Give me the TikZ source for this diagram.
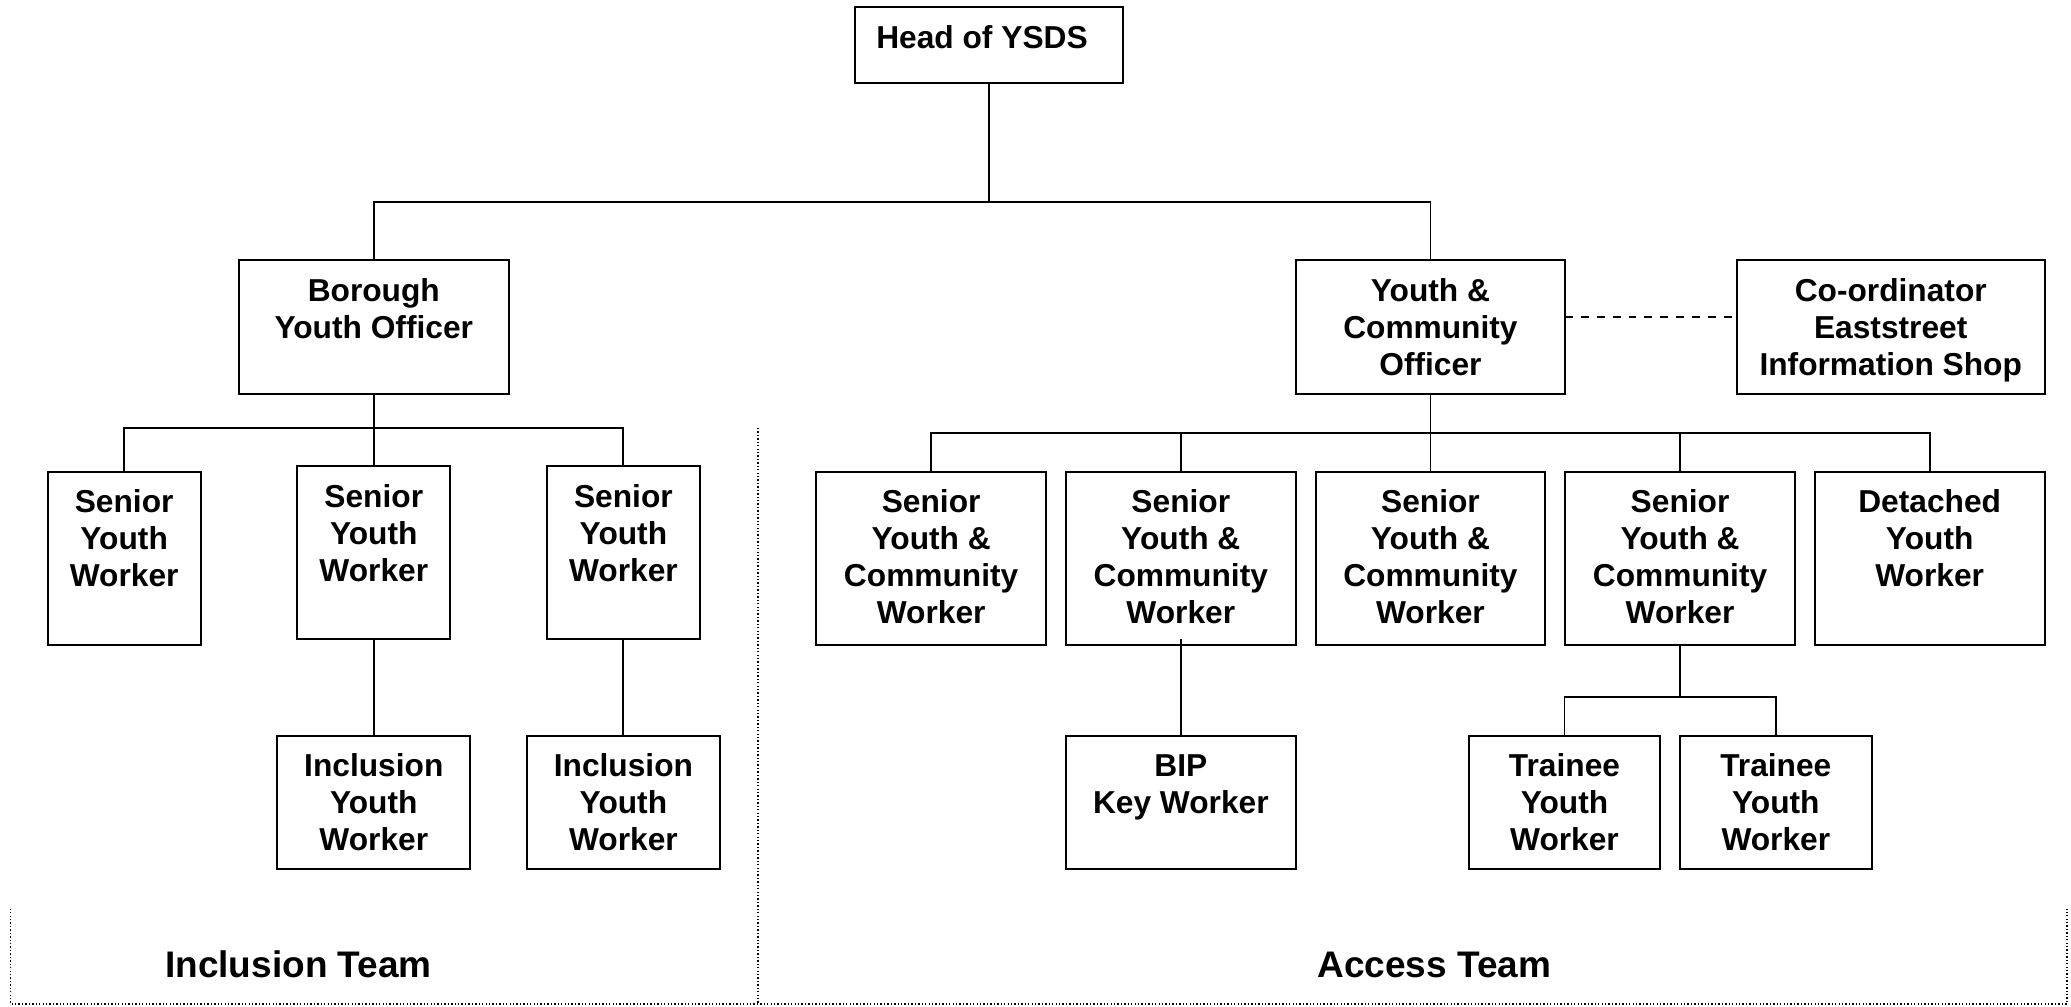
\documentclass[tikz,border=0pt]{standalone}
\usepackage{fontspec}
\setmainfont{Liberation Sans}
\newcommand{\mystrut}{\rule{0pt}{10pt}}
\begin{document}
\begin{tikzpicture}[x=0.5pt,y=-0.5pt,
  box/.style={draw,line width=0.75pt,inner sep=0pt,outer sep=0pt},
  wide/.style={box,minimum width=87pt},
  txt/.style={anchor=north,align=center,inner sep=0pt,font=\fontsize{12}{14}\selectfont\bfseries},
  team/.style={anchor=base,inner sep=0pt,font=\fontsize{14}{16}\selectfont\bfseries},
  conn/.style={line width=0.7pt},
  frame/.style={line width=0.7pt,dash pattern=on 0.5pt off 0.8pt}]
\useasboundingbox (0,0) rectangle (1568,762);
% boxes
\node[box,minimum width=101.5pt,minimum height=29pt] (head) at (748.5,34) {};
\node[box,minimum width=102pt,minimum height=50.5pt] (bor) at (283,247.5) {};
\node[box,minimum width=102pt,minimum height=50.5pt] (yco) at (1083,247.5) {};
\node[box,minimum width=116.5pt,minimum height=50.5pt] (coord) at (1431.5,247.5) {};
\node[box,minimum width=58pt,minimum height=65.5pt] (syw1) at (94,422.5) {};
\node[box,minimum width=58pt,minimum height=65.5pt] (syw2) at (283,418.5) {};
\node[box,minimum width=58pt,minimum height=65.5pt] (syw3) at (472,418.5) {};
\node[box,minimum width=73pt,minimum height=50.5pt] (iyw1) at (283,607.5) {};
\node[box,minimum width=73pt,minimum height=50.5pt] (iyw2) at (472,607.5) {};
\node[wide,minimum height=65.5pt] (sycw1) at (705,422.5) {};
\node[wide,minimum height=65.5pt] (sycw2) at (894,422.5) {};
\node[wide,minimum height=65.5pt] (sycw3) at (1083,422.5) {};
\node[wide,minimum height=65.5pt] (sycw4) at (1272,422.5) {};
\node[wide,minimum height=65.5pt] (det) at (1461,422.5) {};
\node[wide,minimum height=50.5pt] (bip) at (894,607.5) {};
\node[box,minimum width=72.5pt,minimum height=50.5pt] (tr1) at (1184.5,607.5) {};
\node[box,minimum width=72.5pt,minimum height=50.5pt] (tr2) at (1344.5,607.5) {};
% texts
\node[txt] (thead) at ([xshift=-2.5pt,yshift=-5.8pt]head.north) {\mystrut Head of YSDS};
\node[txt] (tbor) at ([yshift=-5.3pt]bor.north) {\mystrut Borough\\Youth Officer};
\node[txt] (tyco) at ([yshift=-5.3pt]yco.north) {\mystrut Youth \&\\Community\\Officer};
\node[txt] (tcoord) at ([yshift=-5.3pt]coord.north) {\mystrut Co-ordinator\\Eaststreet\\Information Shop};
\node[txt] (tsyw1) at ([yshift=-5.3pt]syw1.north) {\mystrut Senior\\Youth\\Worker};
\node[txt] (tsyw2) at ([yshift=-5.3pt]syw2.north) {\mystrut Senior\\Youth\\Worker};
\node[txt] (tsyw3) at ([yshift=-5.3pt]syw3.north) {\mystrut Senior\\Youth\\Worker};
\node[txt] (tiyw1) at ([yshift=-5.3pt]iyw1.north) {\mystrut Inclusion\\Youth\\Worker};
\node[txt] (tiyw2) at ([yshift=-5.3pt]iyw2.north) {\mystrut Inclusion\\Youth\\Worker};
\node[txt] (tsycw1) at ([yshift=-5.3pt]sycw1.north) {\mystrut Senior\\Youth \&\\Community\\Worker};
\node[txt] (tsycw2) at ([yshift=-5.3pt]sycw2.north) {\mystrut Senior\\Youth \&\\Community\\Worker};
\node[txt] (tsycw3) at ([yshift=-5.3pt]sycw3.north) {\mystrut Senior\\Youth \&\\Community\\Worker};
\node[txt] (tsycw4) at ([yshift=-5.3pt]sycw4.north) {\mystrut Senior\\Youth \&\\Community\\Worker};
\node[txt] (tdet) at ([yshift=-5.3pt]det.north) {\mystrut Detached\\Youth\\Worker};
\node[txt] (tbip) at ([yshift=-5.3pt]bip.north) {\mystrut BIP\\Key Worker};
\node[txt] (ttr1) at ([yshift=-5.3pt]tr1.north) {\mystrut Trainee\\Youth\\Worker};
\node[txt] (ttr2) at ([yshift=-5.3pt]tr2.north) {\mystrut Trainee\\Youth\\Worker};
\node[team] (tinc) at (226,740) {Inclusion Team};
\node[team] (tacc) at (1086,740) {Access Team};
% junctions
\coordinate (j0) at (748.5,153);
\coordinate (j1) at (283,324);
\coordinate (j2) at (1083,328);
\coordinate (j3) at (1272,528);
% connectors
\draw[conn] (head.south) -- (j0);
\draw[conn] (bor.north) |- (j0) -| (yco.north);
\draw[conn] (bor.south) -- (syw2.north);
\draw[conn] (syw1.north) |- (j1) -| (syw3.north);
\draw[conn] (syw2.south) -- (iyw1.north);
\draw[conn] (syw3.south) -- (iyw2.north);
\draw[conn] (yco.south) -- (sycw3.north);
\draw[conn] (sycw1.north) |- (j2) -| (det.north);
\draw[conn] (sycw2.north) -- (sycw2.north |- j2);
\draw[conn] (sycw4.north) -- (sycw4.north |- j2);
\draw[conn] ([yshift=2pt]sycw2.south) -- (bip.north);
\draw[conn] (sycw4.south) -- (j3);
\draw[conn] (tr1.north) |- (j3) -| (tr2.north);
\draw[conn,dashed] ([yshift=3.75pt]yco.east) -- ([yshift=3.75pt]coord.west);
% team frame
\coordinate (f1) at (574,324);
\coordinate (f2) at (574,760);
\coordinate (f3) at (8,688);
\coordinate (f4) at (8,760);
\coordinate (f5) at (1565,760);
\coordinate (f6) at (1565,688);
\draw[frame] (f1) -- (f2);
\draw[frame] (f3) -- (f4) -- (f5) -- (f6);
\end{tikzpicture}
\end{document}
